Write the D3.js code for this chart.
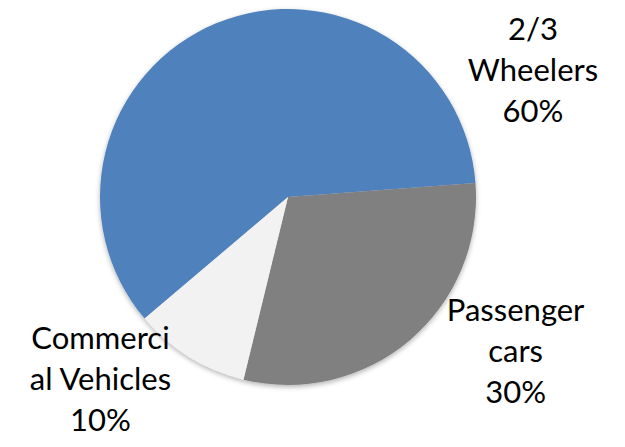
<!DOCTYPE html>
<html>
<head>
<meta charset="utf-8">
<script src="https://cdn.jsdelivr.net/npm/d3@7"></script>
<style>
  html, body { margin: 0; padding: 0; background: #ffffff; }
  svg { display: block; }
  .label { font-family: Lato, "Open Sans", sans-serif; font-size: 31px; fill: #000; }
</style>
</head>
<body>
<svg id="chart" width="625" height="447"></svg>
<script>
// Vehicle segment shares
const categories = ["2/3 Wheelers", "Passenger cars", "Commercial Vehicles"];
const shares = [60, 30, 10];
const labelLines = [["2/3", "Wheelers"], ["Passenger", "cars"], ["Commerci", "al Vehicles"]];
const colors = ["#4f81bd", "#808080", "#f2f2f2"];

// Label placement around the pie (polar: degrees clockwise from 12 o'clock, distance)
const labelAngles = [64.7, 125.9, 224.2];
const labelRadii = [271, 281, 269];

const width = 625, height = 447;
const cx = 288, cy = 197, radius = 188;
const lineHeight = 41;

const svg = d3.select("#chart");

const defs = svg.append("defs");
const shadow = defs.append("filter")
  .attr("id", "pieShadow")
  .attr("x", "-20%").attr("y", "-20%")
  .attr("width", "140%").attr("height", "140%");
shadow.append("feDropShadow")
  .attr("dx", 0).attr("dy", 2)
  .attr("stdDeviation", 2.5)
  .attr("flood-color", "#000")
  .attr("flood-opacity", 0.3);

const startDeg = 229.7;
const pie = d3.pie()
  .sort(null)
  .value(d => d)
  .startAngle(startDeg * Math.PI / 180)
  .endAngle((startDeg + 360) * Math.PI / 180);

const arc = d3.arc().innerRadius(0).outerRadius(radius);

const g = svg.append("g").attr("transform", `translate(${cx},${cy})`);

g.append("g")
  .attr("filter", "url(#pieShadow)")
  .selectAll("path")
  .data(pie(shares))
  .join("path")
  .attr("d", arc)
  .attr("fill", (d, i) => colors[i]);

const fmt = d3.format(".0%");

const labels = g.selectAll("text.label")
  .data(shares)
  .join("text")
  .attr("class", "label")
  .attr("text-anchor", "middle")
  .attr("transform", (d, i) => {
    const [x, y] = d3.pointRadial(labelAngles[i] * Math.PI / 180, labelRadii[i]);
    return `translate(${x},${y})`;
  });

labels.each(function (d, i) {
  const t = d3.select(this);
  const lines = labelLines[i].concat([fmt(d / 100)]);
  lines.forEach((line, k) => {
    t.append("tspan")
      .attr("x", 0)
      .attr("y", (k - 1) * lineHeight)
      .text(line);
  });
});
</script>
</body>
</html>
